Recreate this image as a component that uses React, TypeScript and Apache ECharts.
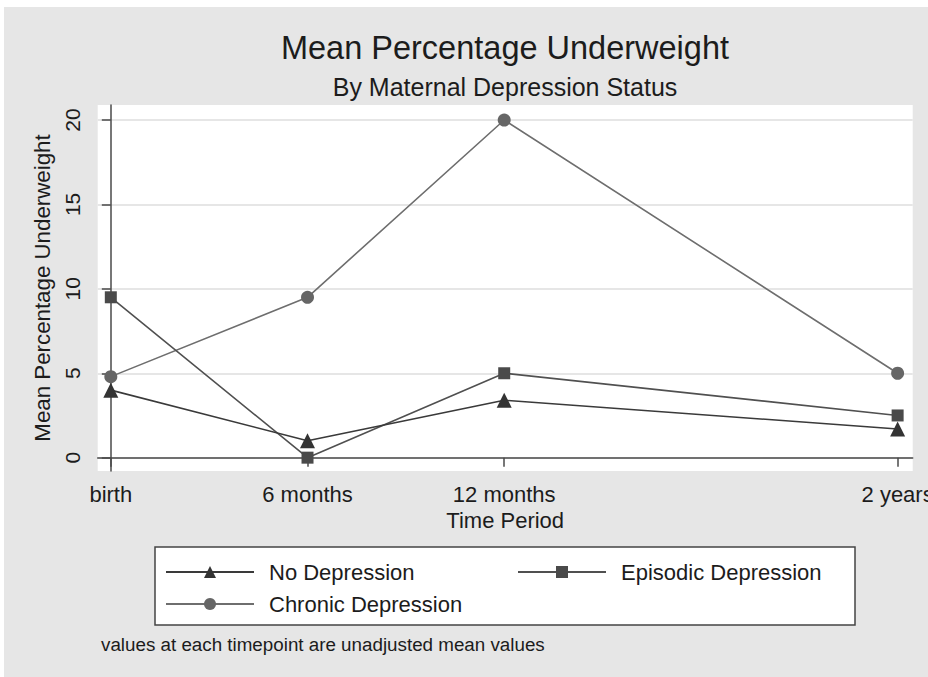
import React, { useEffect, useRef } from "react";
import * as echarts from "echarts";

const timeLabels = ["birth", "6 months", "12 months", "2 years"];
const timeValues = [0, 6, 12, 24];
const noDepression = [4.0, 1.0, 3.4, 1.7];
const episodicDepression = [9.5, 0.0, 5.0, 2.5];
const chronicDepression = [4.8, 9.5, 20.0, 5.0];
const yTicks = [0, 5, 10, 15, 20];

const FONT = "Liberation Sans, Arial, Helvetica, sans-serif";
const TXT = "#1c1c1c";
const AXIS = "#4a4a4a";

function pairs(vals: number[]) {
  return vals.map((v, i) => [timeValues[i], v]);
}

export default function App() {
  const ref = useRef<HTMLDivElement>(null);
  useEffect(() => {
    if (!ref.current) return;
    const chart = echarts.init(ref.current, null, { renderer: "svg" });
    const option: any = {
      animation: false,
      backgroundColor: "#e6e6e6",
      textStyle: { fontFamily: FONT },
      graphic: [
        {
          type: "text",
          x: 501,
          y: 41,
          style: {
            text: "Mean Percentage Underweight",
            font: `32.5px ${FONT}`,
            fill: TXT,
            textAlign: "center",
            textVerticalAlign: "middle",
            align: "center",
            verticalAlign: "middle",
          },
        },
        {
          type: "text",
          x: 501,
          y: 80,
          style: {
            text: "By Maternal Depression Status",
            font: `25px ${FONT}`,
            fill: TXT,
            textAlign: "center",
            textVerticalAlign: "middle",
            align: "center",
            verticalAlign: "middle",
          },
        },
        {
          type: "rect",
          z: 1,
          shape: { x: 151, y: 540, width: 700, height: 78 },
          style: { fill: "#ffffff", stroke: "#444444", lineWidth: 1.5 },
        },
        {
          type: "text",
          x: 97,
          y: 637,
          style: {
            text: "values at each timepoint are unadjusted mean values",
            font: `18.8px ${FONT}`,
            fill: TXT,
            textAlign: "left",
            textVerticalAlign: "middle",
            align: "left",
            verticalAlign: "middle",
          },
        },
      ],
      grid: {
        left: 93.7,
        top: 98,
        right: 15.3,
        bottom: 206,
        show: true,
        backgroundColor: "#ffffff",
        borderWidth: 0,
        containLabel: false,
        outerBoundsMode: "none",
      },
      legend: [
        {
          data: ["No Depression", "Chronic Depression"],
          orient: "vertical",
          left: 161,
          top: 553,
          padding: 0,
          itemWidth: 88,
          itemHeight: 15,
          itemGap: 8,
          z: 5,
          selectedMode: false,
          textStyle: { fontSize: 22, color: TXT, fontFamily: FONT, lineHeight: 24, padding: [0, 0, 0, 10] },
        },
        {
          data: ["Episodic Depression"],
          orient: "vertical",
          left: 513,
          top: 553,
          padding: 0,
          itemWidth: 88,
          itemHeight: 15,
          itemGap: 8,
          z: 5,
          selectedMode: false,
          textStyle: { fontSize: 22, color: TXT, fontFamily: FONT, lineHeight: 24, padding: [0, 0, 0, 10] },
        },
      ],
      xAxis: {
        type: "value",
        min: -0.4,
        max: 24.46,
        name: "Time Period",
        nameLocation: "middle",
        nameGap: 38,
        nameTextStyle: { fontSize: 22, color: TXT, fontFamily: FONT },
        axisLine: { show: true, lineStyle: { color: AXIS, width: 1.5 } },
        axisTick: { show: true, length: 9, lineStyle: { color: AXIS, width: 1.5 }, customValues: timeValues },
        axisLabel: {
          fontSize: 22,
          color: TXT,
          margin: 12,
          customValues: timeValues,
          formatter: (v: number) => timeLabels[timeValues.indexOf(v)] ?? "",
        },
        splitLine: { show: false },
      },
      yAxis: {
        type: "value",
        min: -0.79,
        max: 20.89,
        name: "Mean Percentage Underweight",
        nameLocation: "middle",
        nameGap: 40,
        nameTextStyle: { fontSize: 22.3, color: TXT, fontFamily: FONT },
        axisLine: { show: true, lineStyle: { color: AXIS, width: 1.5 } },
        axisTick: { show: true, length: 9, lineStyle: { color: AXIS, width: 1.5 }, customValues: yTicks },
        axisLabel: {
          fontSize: 21,
          color: TXT,
          margin: 15,
          rotate: 90,
          customValues: yTicks,
        },
        splitLine: { show: true, lineStyle: { color: "#e6e6e6", width: 2 } },
      },
      series: [
        {
          name: "No Depression",
          type: "line",
          data: pairs(noDepression),
          symbol: "triangle",
          symbolSize: 15,
          lineStyle: { color: "#3a3a3a", width: 1.6 },
          itemStyle: { color: "#333333" },
          z: 4,
        },
        {
          name: "Episodic Depression",
          type: "line",
          data: pairs(episodicDepression),
          symbol: "rect",
          symbolSize: 12,
          lineStyle: { color: "#505050", width: 1.6 },
          itemStyle: { color: "#4a4a4a" },
          z: 3,
        },
        {
          name: "Chronic Depression",
          type: "line",
          data: pairs(chronicDepression),
          symbol: "circle",
          symbolSize: 13,
          lineStyle: { color: "#6e6e6e", width: 1.6 },
          itemStyle: { color: "#666666" },
          z: 2,
        },
      ],
    };
    chart.setOption(option);
    return () => chart.dispose();
  }, []);
  return (
    <div
      ref={ref}
      style={{ position: "absolute", left: 4, top: 7, width: 924, height: 670 }}
    />
  );
}
